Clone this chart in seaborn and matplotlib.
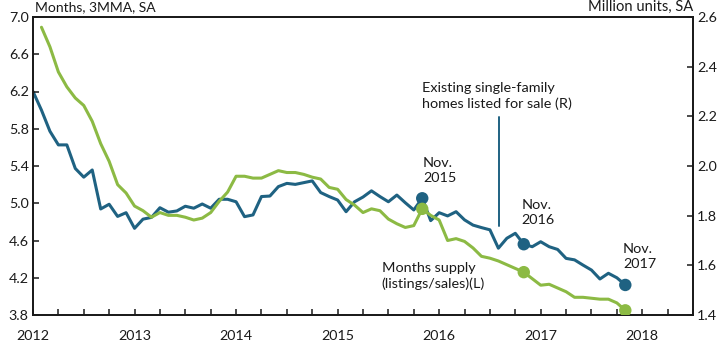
import numpy as np
import pandas as pd
import matplotlib
matplotlib.use("Agg")
import matplotlib.pyplot as plt
import seaborn as sns
from matplotlib.ticker import MultipleLocator, FormatStrFormatter

# ---- data ----
# Existing single-family homes listed for sale, million units (right axis), Jan 2012 - Nov 2017
listed_start = (2012, 1)
listed = [
    2.30, 2.225, 2.14, 2.085, 2.085, 1.99, 1.955, 1.984, 1.827, 1.846, 1.797, 1.812,
    1.749, 1.786, 1.793, 1.832, 1.814, 1.819, 1.838, 1.830, 1.847, 1.830, 1.866, 1.866,
    1.856, 1.796, 1.803, 1.877, 1.879, 1.917, 1.930, 1.926, 1.933, 1.940, 1.893, 1.877,
    1.863, 1.816, 1.856, 1.875, 1.900, 1.877, 1.856, 1.883, 1.852, 1.823, 1.870, 1.780,
    1.812, 1.799, 1.816, 1.783, 1.762, 1.752, 1.743, 1.669, 1.709, 1.729, 1.685, 1.675,
    1.695, 1.675, 1.664, 1.628, 1.622, 1.601, 1.581, 1.545, 1.568, 1.550, 1.521,
]
# Months supply (listings/sales), 3MMA (left axis), Feb 2012 - Nov 2017
supply_start = (2012, 2)
supply = [
    6.89, 6.68, 6.41, 6.25, 6.13, 6.05, 5.88, 5.64, 5.45, 5.20, 5.11,
    4.97, 4.92, 4.85, 4.90, 4.87, 4.87, 4.85, 4.82, 4.84, 4.90, 5.02, 5.12,
    5.29, 5.29, 5.27, 5.27, 5.31, 5.35, 5.33, 5.33, 5.31, 5.28, 5.26, 5.17,
    5.15, 5.04, 4.98, 4.90, 4.94, 4.92, 4.83, 4.78, 4.74, 4.76, 4.94, 4.87,
    4.82, 4.60, 4.62, 4.59, 4.52, 4.43, 4.41, 4.38, 4.34, 4.30, 4.26, 4.19,
    4.12, 4.13, 4.09, 4.05, 3.99, 3.99, 3.98, 3.97, 3.97, 3.93, 3.85,
]
highlight_dates = [(2015, 11), (2016, 11), (2017, 11)]
highlight_labels = ["Nov.\n2015", "Nov.\n2016", "Nov.\n2017"]
year_ticks = [2012, 2013, 2014, 2015, 2016, 2017, 2018]
left_ticks = [3.8, 4.2, 4.6, 5.0, 5.4, 5.8, 6.2, 6.6, 7.0]
right_ticks = [1.4, 1.6, 1.8, 2.0, 2.2, 2.4, 2.6]


def to_t(y, m):
    return y + (m - 1) / 12.0


def series_df(start, vals, name):
    t0 = to_t(*start)
    return pd.DataFrame({"t": [t0 + i / 12.0 for i in range(len(vals))], name: vals})


df_l = series_df(listed_start, listed, "listed")
df_s = series_df(supply_start, supply, "supply")
hl_t = [to_t(*d) for d in highlight_dates]
df_hl_l = df_l[np.isin(np.round(df_l["t"], 4), np.round(hl_t, 4))]
df_hl_s = df_s[np.isin(np.round(df_s["t"], 4), np.round(hl_t, 4))]

# ---- style ----
sns.set_style("ticks")
plt.rcParams["font.family"] = ["Lato", "DejaVu Sans"]
TEAL = "#1f6282"
GREEN = "#8cba44"
TXT = "#1a1a1a"
ANN = 10.4

fig = plt.figure(figsize=(7.25, 3.45), dpi=100)
ax = fig.add_axes([33 / 725, 1 - 315 / 345, (693 - 33) / 725, (315 - 17) / 345])
ax2 = ax.twinx()

sns.lineplot(data=df_l, x="t", y="listed", ax=ax2, color=TEAL, lw=2.2)
sns.scatterplot(data=df_hl_l, x="t", y="listed", ax=ax2, color=TEAL, s=80,
                edgecolor="none", zorder=5)
sns.lineplot(data=df_s, x="t", y="supply", ax=ax, color=GREEN, lw=2.2)
sns.scatterplot(data=df_hl_s, x="t", y="supply", ax=ax, color=GREEN, s=80,
                edgecolor="none", zorder=5)

ax.set_zorder(ax2.get_zorder() + 1)
ax.patch.set_visible(False)

ax.set_xlim(2012, 2018.5)
ax.set_ylim(3.8, 7.0)
ax2.set_ylim(1.4, 2.6)
ax.set_xticks(year_ticks)
ax.set_xticklabels([str(y) for y in year_ticks])
ax.xaxis.set_minor_locator(MultipleLocator(0.25))
ax.set_yticks(left_ticks)
ax2.set_yticks(right_ticks)
ax.yaxis.set_major_formatter(FormatStrFormatter("%.1f"))
ax2.yaxis.set_major_formatter(FormatStrFormatter("%.1f"))
ax.set_xlabel("")
ax.set_ylabel("")
ax2.set_ylabel("")

for a in (ax, ax2):
    for s in a.spines.values():
        s.set_visible(True)
        s.set_linewidth(1.3)
        s.set_color(TXT)
    a.tick_params(which="both", direction="in", length=4, width=1.1, color=TXT,
                  labelsize=10.3, labelcolor=TXT, pad=3)
ax.tick_params(axis="x", which="major", pad=11)
ax.tick_params(axis="y", which="both", right=False)
ax2.tick_params(axis="y", which="both", left=False)

# axis titles
ax.text(0.003, 1.012, "Months, 3MMA, SA", transform=ax.transAxes, ha="left",
        va="bottom", fontsize=10.0, color=TXT)
ax.text(1.0, 1.012, "Million units, SA", transform=ax.transAxes, ha="right",
        va="bottom", fontsize=10.6, color=TXT)

# annotations
ax.text(2015.833, 6.15, "Existing single-family\nhomes listed for sale (R)",
        ha="left", va="center", fontsize=ANN, color=TXT, linespacing=1.3)
ax.plot([2016.59, 2016.59], [4.756, 5.93], color=TEAL, lw=1.4)
ax.text(2015.435, 4.216, "Months supply\n(listings/sales)(L)",
        ha="left", va="center", fontsize=ANN, color=TXT, linespacing=1.3)
label_pos = [(2015.84, 5.347), (2016.81, 4.896), (2017.81, 4.43)]
for (x, y), lab in zip(label_pos, highlight_labels):
    ax.text(x, y, lab, ha="left", va="center", fontsize=ANN, color=TXT,
            linespacing=1.3)

fig.savefig("out.png", dpi=100)
